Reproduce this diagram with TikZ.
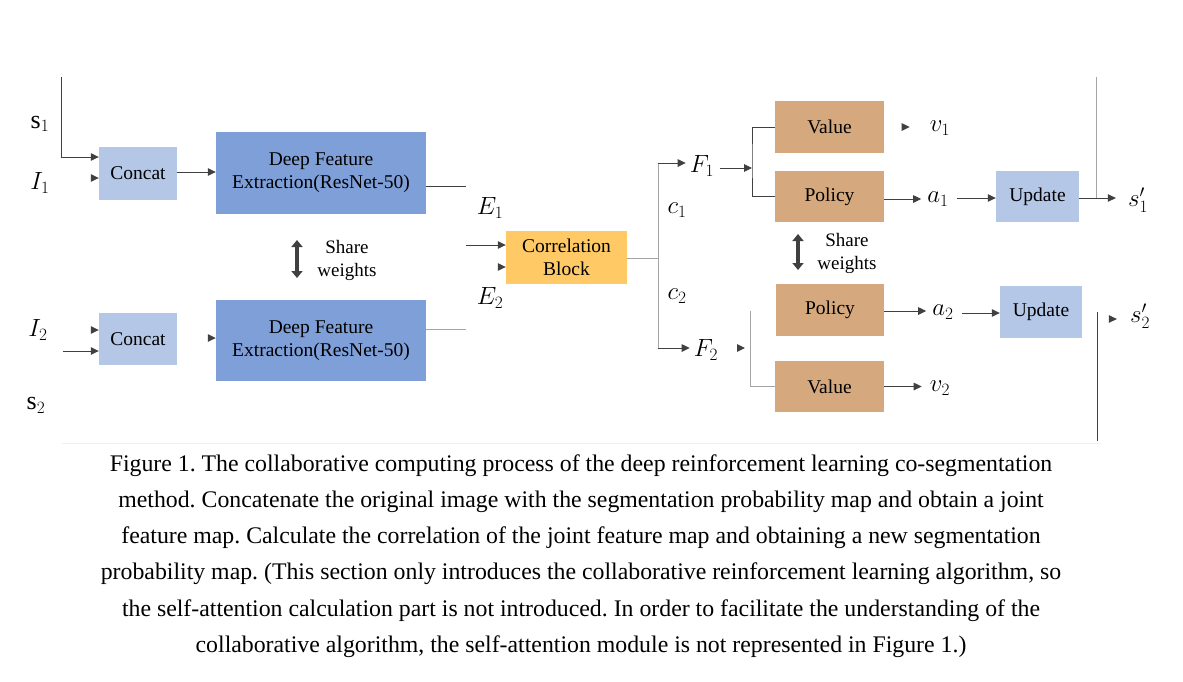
\documentclass[tikz,border=0pt]{standalone}
\usepackage{fontspec}
\setmainfont{Liberation Serif}
\usetikzlibrary{arrows.meta}
\definecolor{lblue}{RGB}{180,199,231}
\definecolor{dblue}{RGB}{127,159,216}
\definecolor{corrc}{RGB}{255,202,102}
\definecolor{tan}{RGB}{213,169,125}
\definecolor{dark}{RGB}{64,64,64}
\definecolor{lgray}{RGB}{165,165,165}
\definecolor{faint}{RGB}{238,238,238}
\tikzset{
  box/.style={draw=none, inner sep=0pt, align=center, font=\fontsize{19.5}{23}\selectfont},
  arr/.style={draw=dark, line width=1pt, -{Triangle[length=8pt,width=7.5pt]}},
  ln/.style={draw=dark, line width=1pt},
  lln/.style={draw=lgray, line width=1pt},
  lab/.style={font=\fontsize{26}{26}\selectfont, inner sep=0pt},
  sharearr/.style={draw=dark, line width=4pt, {Triangle[length=7pt,width=11pt]}-{Triangle[length=7pt,width=11pt]}},
  sharetxt/.style={align=center, inner sep=0pt, font=\fontsize{19}{23}\selectfont},
  captext/.style={align=center, inner sep=0pt, font=\fontsize{23.8}{36.2}\selectfont}
}
\begin{document}
\frenchspacing
\begin{tikzpicture}[x=1pt,y=-1pt]
\useasboundingbox[fill=white] (0,0) rectangle (1183,681);
% boxes
\node[box, fill=lblue, minimum width=78pt, minimum height=53pt] (c1) at (138,173.5) {Concat};
\node[box, fill=lblue, minimum width=78pt, minimum height=52pt] (c2) at (138,339) {Concat};
\node[box, fill=dblue, minimum width=210pt, minimum height=82pt] (d1) at (321,173) {Deep Feature\\Extraction(ResNet-50)};
\node[box, fill=dblue, minimum width=210pt, minimum height=81pt] (d2) at (321,340.5) {Deep Feature\\Extraction(ResNet-50)};
\node[box, fill=corrc, minimum width=121pt, minimum height=53pt] (corr) at (566.5,257.5) {Correlation\\Block};
\node[box, fill=tan, minimum width=109pt, minimum height=52pt] (v1) at (829.5,127) {Value};
\node[box, fill=tan, minimum width=109pt, minimum height=51pt] (p1) at (829.5,196.5) {Policy};
\node[box, fill=tan, minimum width=108pt, minimum height=52pt] (p2) at (830,310) {Policy};
\node[box, fill=tan, minimum width=109pt, minimum height=51pt] (v2) at (829.5,386.5) {Value};
\node[box, fill=lblue, minimum width=83pt, minimum height=51pt] (u1) at (1037.5,196.5) {Update};
\node[box, fill=lblue, minimum width=82pt, minimum height=52pt] (u2) at (1041,312) {Update};
% labels
\node[lab] (ls1) at (40,124) {$\mathrm{s}_1$};
\node[lab] (lI1) at (40,183) {$I_1$};
\node[lab] (lI2) at (38,330) {$I_2$};
\node[lab] (ls2) at (36,405) {$\mathrm{s}_2$};
\node[lab] (lE1) at (490,208) {$E_1$};
\node[lab] (lE2) at (490,298) {$E_2$};
\node[lab] (lc1) at (677,210) {$c_1$};
\node[lab] (lc2) at (677,296) {$c_2$};
\node[lab] (lF1) at (702,166) {$F_1$};
\node[lab] (lF2) at (706,350) {$F_2$};
\node[lab] (lv1) at (940,128) {$v_1$};
\node[lab] (la1) at (938,199) {$a_1$};
\node[lab] (la2) at (943,312) {$a_2$};
\node[lab] (lv2) at (940,388) {$v_2$};
\node[lab] (ls1p) at (1138,200) {$s_1'$};
\node[lab] (ls2p) at (1140,316) {$s_2'$};
% free coordinates
\coordinate (t1) at (61,77);
\coordinate (e1) at (466,186);
\coordinate (e1b) at (466,245);
\coordinate (e2) at (466,329);
\coordinate (cr) at (658,258);
\coordinate (ft) at (658,163);
\coordinate (fb) at (658,348);
\coordinate (b1) at (752,160);
\coordinate (b2) at (750,311);
\coordinate (t2) at (1096,77);
\coordinate (bt) at (1097,441);
% left inputs
\draw[arr] (t1) |- ([yshift=16.5pt]c1.west);
\draw[arr] ([xshift=-8pt,yshift=-4.5pt]c1.west) -- ([yshift=-4.5pt]c1.west);
\draw[arr] ([xshift=-8pt,yshift=9pt]c2.west) -- ([yshift=9pt]c2.west);
\draw[arr] ([xshift=-36pt,yshift=-12pt]c2.west) -- ([yshift=-12pt]c2.west);
\draw[arr] ([yshift=1.5pt]c1.east) -- ([yshift=1.5pt]c1.east -| d1.west);
\draw[arr] ([xshift=-8pt,yshift=2.5pt]d2.west) -- ([yshift=2.5pt]d2.west);
% feature outputs
\draw[ln] ([yshift=-13pt]d1.east) -- (e1);
\draw[lln] ([yshift=11.5pt]d2.east) -- (e2);
\draw[arr] (e1b) -- ([yshift=12.5pt]corr.west);
\draw[arr] ([xshift=-8pt,yshift=-9.5pt]corr.west) -- ([yshift=-9.5pt]corr.west);
% correlation out
\draw[lln] (corr.east |- cr) -- (cr);
\draw[lln] (ft) -- (fb);
\draw[arr] (ft) -- ([xshift=-4pt]lF1.west |- ft);
\draw[arr] (fb) -- ([xshift=-4pt]lF2.west |- fb);
% F1 branch
\draw[arr] ([xshift=6pt,yshift=-2pt]lF1.east) -- ([yshift=-2pt]lF1.east -| b1);
\draw[ln] (v1.west) -| (b1) |- (p1.west);
\draw[arr] ([xshift=-28pt]lv1.west |- v1.east) -- ++(8pt,0);
\draw[arr] ([yshift=-2.5pt]p1.east) -- ([xshift=-6pt,yshift=-2.5pt]p1.east -| la1.west);
\draw[arr] ([xshift=8pt,yshift=-1.5pt]u1.west -| la1.east) -- ([yshift=-1.5pt]u1.west);
\draw[arr] ([yshift=-1.5pt]u1.east) -- ([xshift=-12pt,yshift=-1.5pt]u1.east -| ls1p.west);
\draw[lln] (t2) -- ([yshift=-1.5pt]u1.east -| t2);
% F2 branch
\draw[lln] (b2) |- (v2.west);
\draw[arr] ([xshift=-13pt]b2 |- fb) -- ([xshift=-5pt]b2 |- fb);
\draw[arr] ([yshift=-1pt]p2.east) -- ([xshift=-6pt,yshift=-1pt]p2.east -| la2.west);
\draw[arr] ([xshift=8pt,yshift=-1pt]u2.west -| la2.east) -- ([yshift=-1pt]u2.west);
\draw[arr] ([xshift=-21pt,yshift=-3pt]ls2p.west) -- ([xshift=-13pt,yshift=-3pt]ls2p.west);
\draw[ln] (bt) -- (bt |- u2.east);
\draw[arr] (v2.east) -- ([xshift=-8pt]v2.east -| lv2.west);
% share weights
\coordinate (sa1) at (297,240);
\coordinate (sb1) at (297,278);
\coordinate (sa2) at (798,234);
\coordinate (sb2) at (798,270);
\draw[sharearr] (sa1) -- (sb1);
\draw[sharearr] (sa2) -- (sb2);
\node[sharetxt] (sw1) at (347,260) {Share\\weights};
\node[sharetxt] (sw2) at (847,253) {Share\\weights};
% faint line
\coordinate (fl1) at (62,443);
\coordinate (fl2) at (1100,443);
\draw[draw=faint, line width=1pt] (fl1) -- (fl2);
% caption
\node[captext] (caption) at (581,556) {Figure 1. The collaborative computing process of the deep reinforcement learning co-segmentation\\
method. Concatenate the original image with the segmentation probability map and obtain a joint\\
feature map. Calculate the correlation of the joint feature map and obtaining a new segmentation\\
probability map. (This section only introduces the collaborative reinforcement learning algorithm, so\\
the self-attention calculation part is not introduced. In order to facilitate the understanding of the\\
collaborative algorithm, the self-attention module is not represented in Figure 1.)};
\end{tikzpicture}
\end{document}
